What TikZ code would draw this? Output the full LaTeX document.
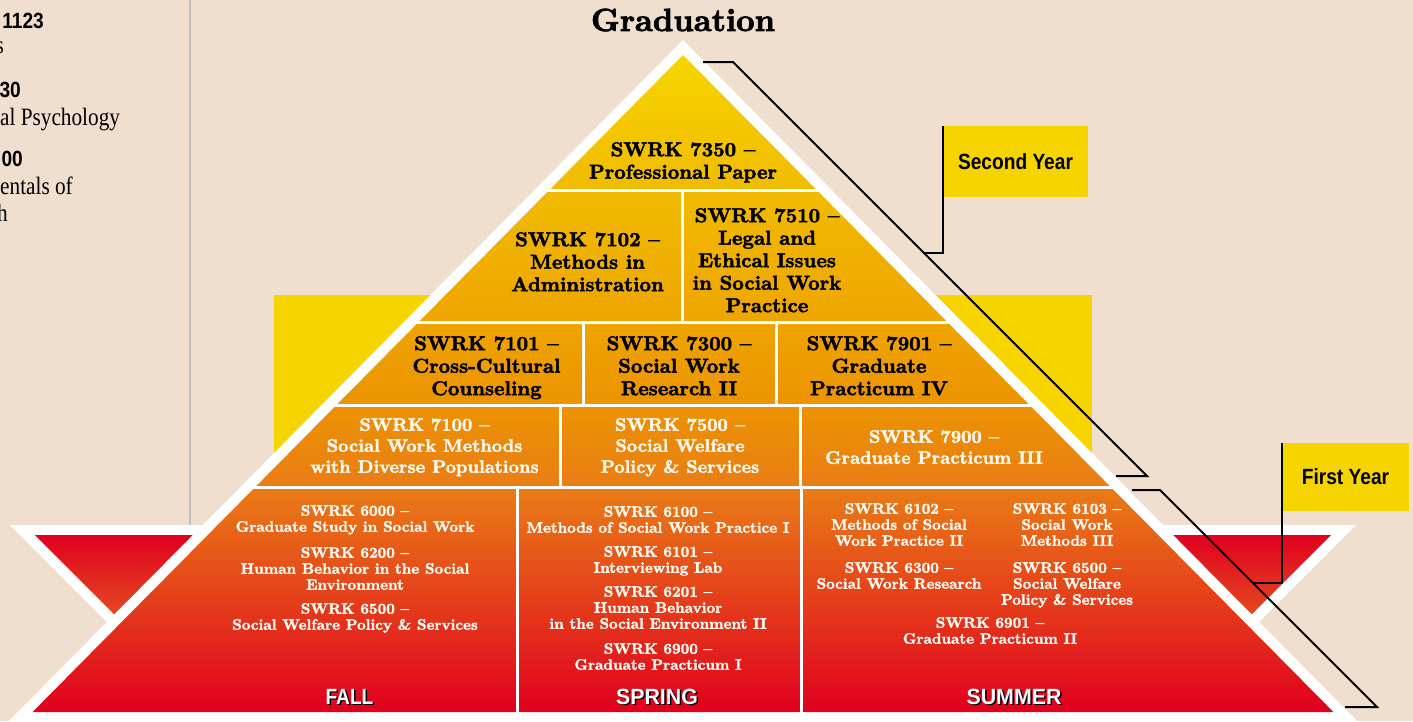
\documentclass[tikz,border=0pt]{standalone}
\usepackage{fontspec}
\newfontfamily\condsans[FakeStretch=0.87]{Liberation Sans}
\newfontfamily\condsansw[FakeStretch=0.97]{Liberation Sans}
\newfontfamily\condserif[FakeStretch=0.85]{Liberation Serif}
\newfontfamily\gar[FakeBold=2.4]{lmroman10-bold.otf}
\definecolor{bg}{HTML}{F0DFCF}
\definecolor{yel}{HTML}{F5D400}
\definecolor{sepgray}{HTML}{C0C0C0}
\definecolor{rA}{HTML}{F6D500}
\definecolor{rB}{HTML}{F1BB00}
\definecolor{rC}{HTML}{EEA500}
\definecolor{rD}{HTML}{EC9302}
\definecolor{rE}{HTML}{E97D16}
\definecolor{rF}{HTML}{E55A1E}
\definecolor{rG}{HTML}{E0001F}
\definecolor{rH}{HTML}{E34A20}
\definecolor{cream}{HTML}{FFF8EE}
\begin{document}
\begin{tikzpicture}[x=1pt,y=-1pt,
  cbig/.style={font=\gar\fontsize{20}{22.5}\selectfont, align=center, inner sep=0pt, anchor=north, text=black},
  cmid/.style={font=\gar\fontsize{18}{21}\selectfont, align=center, inner sep=0pt, anchor=north, text=cream},
  csmall/.style={font=\gar\fontsize{15}{16}\selectfont, align=center, inner sep=0pt, anchor=north, text=cream},
  seam/.style={white, line width=3pt},
  bracket/.style={black, line width=2pt},
  yearbox/.style={fill=yel, inner sep=0pt, font=\condsans\bfseries\fontsize{22}{24}\selectfont},
  season/.style={inner sep=0pt, anchor=base, font=\condsansw\bfseries\fontsize{22}{24}\selectfont},
  lefthead/.style={inner sep=0pt, font=\condsans\bfseries\fontsize{22}{24}\selectfont},
  leftbody/.style={inner sep=0pt, font=\condserif\fontsize{25}{27}\selectfont}
]
\useasboundingbox (0,0) rectangle (1413,721);
\clip (0,0) rectangle (1413,721);
\fill[bg] (0,0) rectangle (1413,721);

% left column
\draw[sepgray, line width=2pt] (190,0) -- (190,525);
\node[lefthead, anchor=base east] (l1) at (44,28) {1123};
\node[leftbody, anchor=base east] (l2) at (4,53) {s};
\node[lefthead, anchor=base east] (l3) at (21,97) {30};
\node[leftbody, anchor=base west] (l4) at (0,125) {al Psychology};
\node[lefthead, anchor=base east] (l5) at (23,166) {00};
\node[leftbody, anchor=base west] (l6) at (0,194) {entals of};
\node[leftbody, anchor=base east] (l7) at (8,221) {h};

% yellow band behind pyramid
\fill[yel] (274,295) rectangle (1092,470);

% inverted side triangles
\fill[white] (10,525) -- (206,525) -- (108,623) -- cycle;
\fill[white] (1356,525) -- (1160,525) -- (1258,623) -- cycle;
\shade[top color=rG, bottom color=rH] (35,535) -- (195,535) -- (115,615) -- cycle;
\shade[top color=rG, bottom color=rH] (1331,535) -- (1171,535) -- (1251,615) -- cycle;

% pyramid white outline
\fill[white] (683,40) -- (1376,740) -- (-10,740) -- cycle;

% pyramid layers
\shade[top color=rA, bottom color=rB] (683,55) -- (816.65,190) -- (549.35,190) -- cycle;
\shade[top color=rB, bottom color=rC] (549.35,190) -- (816.65,190) -- (947.33,322) -- (418.67,322) -- cycle;
\shade[top color=rC, bottom color=rD] (418.67,322) -- (947.33,322) -- (1029.5,405) -- (336.5,405) -- cycle;
\shade[top color=rD, bottom color=rE] (336.5,405) -- (1029.5,405) -- (1110.68,487) -- (255.32,487) -- cycle;
\shade[top color=rE, middle color=rF, bottom color=rG] (255.32,487) -- (1110.68,487) -- (1333.43,712) -- (32.57,712) -- cycle;

% separators
\draw[seam] (545,190) -- (821,190);
\draw[seam] (412,322) -- (954,322);
\draw[seam] (330,405) -- (1036,405);
\draw[seam] (248,487) -- (1118,487);
\draw[seam] (682,190) -- (682,322);
\draw[seam] (583,322) -- (583,405);
\draw[seam] (776,322) -- (776,405);
\draw[seam] (560,405) -- (560,487);
\draw[seam] (800,405) -- (800,487);
\draw[seam] (517,487) -- (517,715);
\draw[seam] (801,487) -- (801,715);

% title
\node[inner sep=0pt, anchor=base, font=\gar\fontsize{32}{36}\selectfont] (grad) at (683,31) {Graduation};

% second-year courses
\node[cbig] (c7350) at (683,142) {SWRK 7350 –\\Professional Paper};
\node[cbig] (c7102) at (587.5,232) {SWRK 7102 –\\Methods in\\Administration};
\node[cbig] (c7510) at (767,208) {SWRK 7510 –\\Legal and\\Ethical Issues\\in Social Work\\Practice};
\node[cbig] (c7101) at (486.5,336) {SWRK 7101 –\\Cross-Cultural\\Counseling};
\node[cbig] (c7300) at (679,336) {SWRK 7300 –\\Social Work\\Research II};
\node[cbig] (c7901) at (879,336) {SWRK 7901 –\\Graduate\\Practicum IV};
\node[cmid] (c7100) at (424.5,418) {SWRK 7100 –\\Social Work Methods\\with Diverse Populations};
\node[cmid] (c7500) at (680,418) {SWRK 7500 –\\Social Welfare\\Policy \& Services};
\node[cmid] (c7900) at (934,430) {SWRK 7900 –\\Graduate Practicum III};

% first-year courses
\node[csmall] (c6000) at (355,505) {SWRK 6000 –\\Graduate Study in Social Work};
\node[csmall] (c6200) at (355,547) {SWRK 6200 –\\Human Behavior in the Social\\Environment};
\node[csmall] (c6500a) at (355,603) {SWRK 6500 –\\Social Welfare Policy \& Services};
\node[csmall] (c6100) at (658,506) {SWRK 6100 –\\Methods of Social Work Practice I};
\node[csmall] (c6101) at (658,546) {SWRK 6101 –\\Interviewing Lab};
\node[csmall] (c6201) at (658,586) {SWRK 6201 –\\Human Behavior\\in the Social Environment II};
\node[csmall] (c6900) at (658,643) {SWRK 6900 –\\Graduate Practicum I};
\node[csmall] (c6102) at (899,503) {SWRK 6102 –\\Methods of Social\\Work Practice II};
\node[csmall] (c6103) at (1067,503) {SWRK 6103 –\\Social Work\\Methods III};
\node[csmall] (c6300) at (899,562) {SWRK 6300 –\\Social Work Research};
\node[csmall] (c6500b) at (1067,562) {SWRK 6500 –\\Social Welfare\\Policy \& Services};
\node[csmall] (c6901) at (990,617) {SWRK 6901 –\\Graduate Practicum II};

% season labels
\node[season, font=\condsans\bfseries\fontsize{22}{24}\selectfont, text=black] (fallsh) at (351,705.5) {FALL};
\node[season, font=\condsans\bfseries\fontsize{22}{24}\selectfont, text=white] (fall) at (349.5,704) {FALL};
\node[season, text=black] (springsh) at (658.5,705.5) {SPRING};
\node[season, text=white] (spring) at (657,704) {SPRING};
\node[season, text=black] (summersh) at (1015.5,705.5) {SUMMER};
\node[season, text=white] (summer) at (1014,704) {SUMMER};

% year boxes
\node[yearbox, minimum width=145pt, minimum height=71pt] (second) at (1015.5,161.5) {Second Year};
\node[yearbox, minimum width=127pt, minimum height=68pt] (first) at (1345.5,477) {First Year};

% brackets
\coordinate (s1) at (703,62);
\coordinate (s2) at (733,62);
\coordinate (s3) at (1147,476);
\coordinate (s4) at (1116,476);
\coordinate (st) at (924,253);
\draw[bracket] (s1) -- (s2) -- (s3) -- (s4);
\draw[bracket] (st) -| (second.north west);
\coordinate (f1) at (1132,490);
\coordinate (f2) at (1160,490);
\coordinate (f3) at (1377,707);
\coordinate (f4) at (1345,707);
\coordinate (ft) at (1253,583);
\draw[bracket] (f1) -- (f2) -- (f3) -- (f4);
\draw[bracket] (ft) -| (first.north west);
\end{tikzpicture}
\end{document}
